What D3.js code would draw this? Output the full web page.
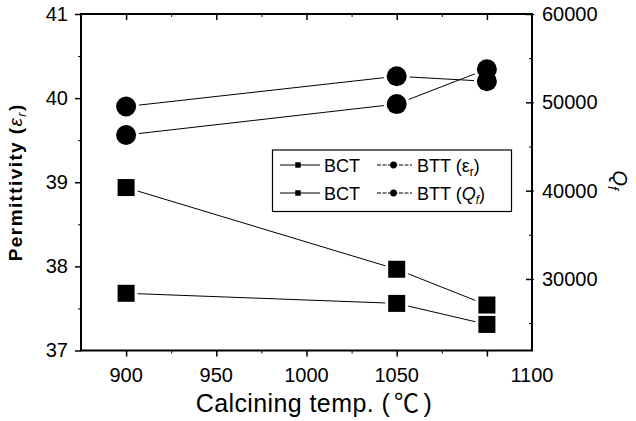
<!DOCTYPE html>
<html>
<head>
<meta charset="utf-8">
<script src="https://cdn.jsdelivr.net/npm/d3@7"></script>
<style>
  body { margin: 0; background: #fff; }
  svg { display: block; font-family: "Liberation Sans", Arial, "Noto Sans CJK SC", sans-serif; }
</style>
</head>
<body>
<div id="chart"></div>
<script>
'use strict';

// calcining temperatures (x) and measured values
const temps = [900, 1050, 1100];
const bctPermittivity = [37.68, 37.56, 37.31];
const bttPermittivity = [39.90, 40.26, 40.20];
const bctQf = [40350, 31100, 27050];
const bttQf = [46300, 49800, 53750];

// bottom axis: the last label sits at the right edge in the original
const xTickValues = [900, 950, 1000, 1050, 1125];
const xTickLabels = ['900', '950', '1000', '1050', '1100'];
const leftTicks = [37, 38, 39, 40, 41];
const rightTicks = [30000, 40000, 50000, 60000];

const W = 636, H = 421;
const plot = {left: 81, top: 14, right: 532, bottom: 350.5};

const x = d3.scaleLinear().domain([875, 1125]).range([plot.left, plot.right]);
const yL = d3.scaleLinear().domain([37, 41]).range([plot.bottom, plot.top]);
const yR = d3.scaleLinear().domain([21900, 60000]).range([plot.bottom, plot.top]);

const svg = d3.select('#chart').append('svg')
  .attr('width', W)
  .attr('height', H);

// series definitions (which scale each one uses)
const series = [
  {name: 'bctEr', values: bctPermittivity, y: yL, shape: 'square'},
  {name: 'bttEr', values: bttPermittivity, y: yL, shape: 'circle'},
  {name: 'bctQf', values: bctQf, y: yR, shape: 'square'},
  {name: 'bttQf', values: bttQf, y: yR, shape: 'circle'}
];

const pts = s => temps.map((t, i) => [x(t), s.y(s.values[i])]);

// lines first
const line = d3.line();
svg.append('g').selectAll('path')
  .data(series)
  .enter()
  .append('path')
  .attr('d', s => line(pts(s)))
  .attr('fill', 'none')
  .attr('stroke', '#000')
  .attr('stroke-width', 1);

// white halos give the small gap between line and marker
const drawMarkers = (g, grow, fill) => {
  series.forEach(s => {
    pts(s).forEach(([px, py]) => {
      if (s.shape === 'circle') {
        g.append('circle').attr('cx', px).attr('cy', py).attr('r', 10 + grow).attr('fill', fill);
      } else {
        const h = 8.5 + grow;
        g.append('rect').attr('x', px - h).attr('y', py - h)
          .attr('width', 2 * h).attr('height', 2 * h).attr('fill', fill);
      }
    });
  });
};
drawMarkers(svg.append('g'), 3, '#fff');
drawMarkers(svg.append('g'), 0, '#000');

// frame
svg.append('rect')
  .attr('x', plot.left).attr('y', plot.top)
  .attr('width', plot.right - plot.left)
  .attr('height', plot.bottom - plot.top)
  .attr('fill', 'none')
  .attr('stroke', '#000')
  .attr('stroke-width', 2);

const tickFont = g => g.selectAll('text')
  .attr('font-size', 20)
  .attr('fill', '#000');
const noDomain = g => g.select('.domain').remove();

// left axis
svg.append('g')
  .attr('transform', `translate(${plot.left},0)`)
  .call(d3.axisLeft(yL).tickValues(leftTicks).tickFormat(d3.format('d')).tickSize(6).tickPadding(7))
  .call(noDomain).call(tickFont)
  .call(g => g.selectAll('line').attr('stroke-width', 1.5));
svg.append('g')
  .attr('transform', `translate(${plot.left},0)`)
  .call(d3.axisLeft(yL).tickValues(d3.range(37.5, 41, 1)).tickFormat('').tickSize(3))
  .call(noDomain);

// right axis: major ticks cross the frame, minor ticks inside
svg.append('g')
  .attr('transform', `translate(${plot.right},0)`)
  .call(d3.axisRight(yR).tickValues(rightTicks).tickFormat(d3.format('d')).tickSize(2).tickPadding(8))
  .call(noDomain).call(tickFont);
svg.append('g')
  .attr('transform', `translate(${plot.right},0)`)
  .call(d3.axisRight(yR).tickValues(rightTicks).tickFormat('').tickSize(-6))
  .call(noDomain)
  .call(g => g.selectAll('line').attr('stroke-width', 1.5));
svg.append('g')
  .attr('transform', `translate(${plot.right},0)`)
  .call(d3.axisRight(yR).tickValues([25000, 35000, 45000, 55000]).tickFormat('').tickSize(-3))
  .call(noDomain);

// bottom axis
svg.append('g')
  .attr('transform', `translate(0,${plot.bottom})`)
  .call(d3.axisBottom(x).tickValues([900, 950, 1000, 1050, 1100]).tickFormat('').tickSize(6))
  .call(noDomain)
  .call(g => g.selectAll('line').attr('stroke-width', 1.5));
svg.append('g')
  .attr('transform', `translate(0,${plot.bottom})`)
  .call(d3.axisBottom(x).tickValues(d3.range(925, 1125, 50)).tickFormat('').tickSize(3))
  .call(noDomain);
svg.append('g')
  .selectAll('text')
  .data(xTickValues)
  .enter()
  .append('text')
  .attr('x', d => x(d))
  .attr('y', plot.bottom + 31)
  .attr('text-anchor', 'middle')
  .attr('font-size', 20)
  .text((d, i) => xTickLabels[i]);

// top axis, ticks inward
svg.append('g')
  .attr('transform', `translate(0,${plot.top})`)
  .call(d3.axisTop(x).tickValues([900, 950, 1000, 1050, 1100]).tickFormat('').tickSize(-6))
  .call(noDomain)
  .call(g => g.selectAll('line').attr('stroke-width', 1.5));
svg.append('g')
  .attr('transform', `translate(0,${plot.top})`)
  .call(d3.axisTop(x).tickValues(d3.range(925, 1125, 50)).tickFormat('').tickSize(-3))
  .call(noDomain);

// axis titles
const yTitle = svg.append('text')
  .attr('transform', `translate(22,${(plot.top + plot.bottom) / 2}) rotate(-90)`)
  .attr('text-anchor', 'middle')
  .attr('font-size', 19)
  .attr('font-weight', 'bold')
  .attr('letter-spacing', 1.4);
yTitle.append('tspan').text('Permittivity (');
yTitle.append('tspan').attr('font-style', 'italic').attr('font-weight', 'normal').text('ε');
yTitle.append('tspan').attr('font-style', 'italic').attr('font-weight', 'normal')
  .attr('font-size', 13).attr('dy', 4).text('r');
yTitle.append('tspan').attr('dy', -4).text(')');

const xTitle = svg.append('text')
  .attr('x', 314)
  .attr('y', 412)
  .attr('text-anchor', 'middle')
  .attr('font-size', 25)
  .attr('letter-spacing', 0.4);
xTitle.append('tspan').text('Calcining temp. (');
xTitle.append('tspan').attr('dx', 4).text('℃');
xTitle.append('tspan').attr('dx', 4).text(')');

const qTitle = svg.append('text')
  .attr('transform', `translate(613,${(plot.top + plot.bottom) / 2 - 2}) rotate(90)`)
  .attr('text-anchor', 'middle')
  .attr('font-size', 20)
  .attr('font-style', 'italic');
qTitle.append('tspan').text('Q');
qTitle.append('tspan').attr('font-size', 14).attr('dy', 5).text('f');

// legend
const legend = svg.append('g');
legend.append('rect')
  .attr('x', 272.5).attr('y', 150)
  .attr('width', 239).attr('height', 61.5)
  .attr('fill', '#fff')
  .attr('stroke', '#000')
  .attr('stroke-width', 1.2);

const legendItems = [
  {row: 0, col: 0, shape: 'square'},
  {row: 0, col: 1, shape: 'circle'},
  {row: 1, col: 0, shape: 'square'},
  {row: 1, col: 1, shape: 'circle'}
];
const colX = [280, 377];
const rowY = [165, 193];

const item = legend.selectAll('g.item')
  .data(legendItems)
  .enter()
  .append('g')
  .attr('class', 'item')
  .attr('transform', d => `translate(${colX[d.col]},${rowY[d.row]})`);

item.append('line')
  .attr('x1', 0).attr('x2', d => d.col === 0 ? 40 : 35)
  .attr('stroke', '#000')
  .attr('stroke-width', 1)
  .attr('stroke-dasharray', d => d.col === 0 ? null : '4,1.5');
item.append('path')
  .attr('transform', d => `translate(${d.col === 0 ? 18 : 16.5},0)`)
  .attr('d', d => d3.symbol(d.shape === 'square' ? d3.symbolSquare : d3.symbolCircle,
    d.shape === 'square' ? 30 : 36)())
  .attr('fill', '#000');

item.append('text')
  .attr('x', d => d.col === 0 ? 44 : 40)
  .attr('y', 6.5)
  .attr('font-size', 18)
  .each(function(d) {
    const t = d3.select(this);
    if (d.col === 0) { t.text('BCT'); return; }
    t.append('tspan').text('BTT (');
    if (d.row === 0) {
      t.append('tspan').text('ε');
      t.append('tspan').attr('font-size', 12).attr('dy', 4).text('r');
    } else {
      t.append('tspan').attr('font-style', 'italic').text('Q');
      t.append('tspan').attr('font-style', 'italic').attr('font-size', 12).attr('dy', 4).text('f');
    }
    t.append('tspan').attr('dy', -4).text(')');
  });
</script>
</body>
</html>
